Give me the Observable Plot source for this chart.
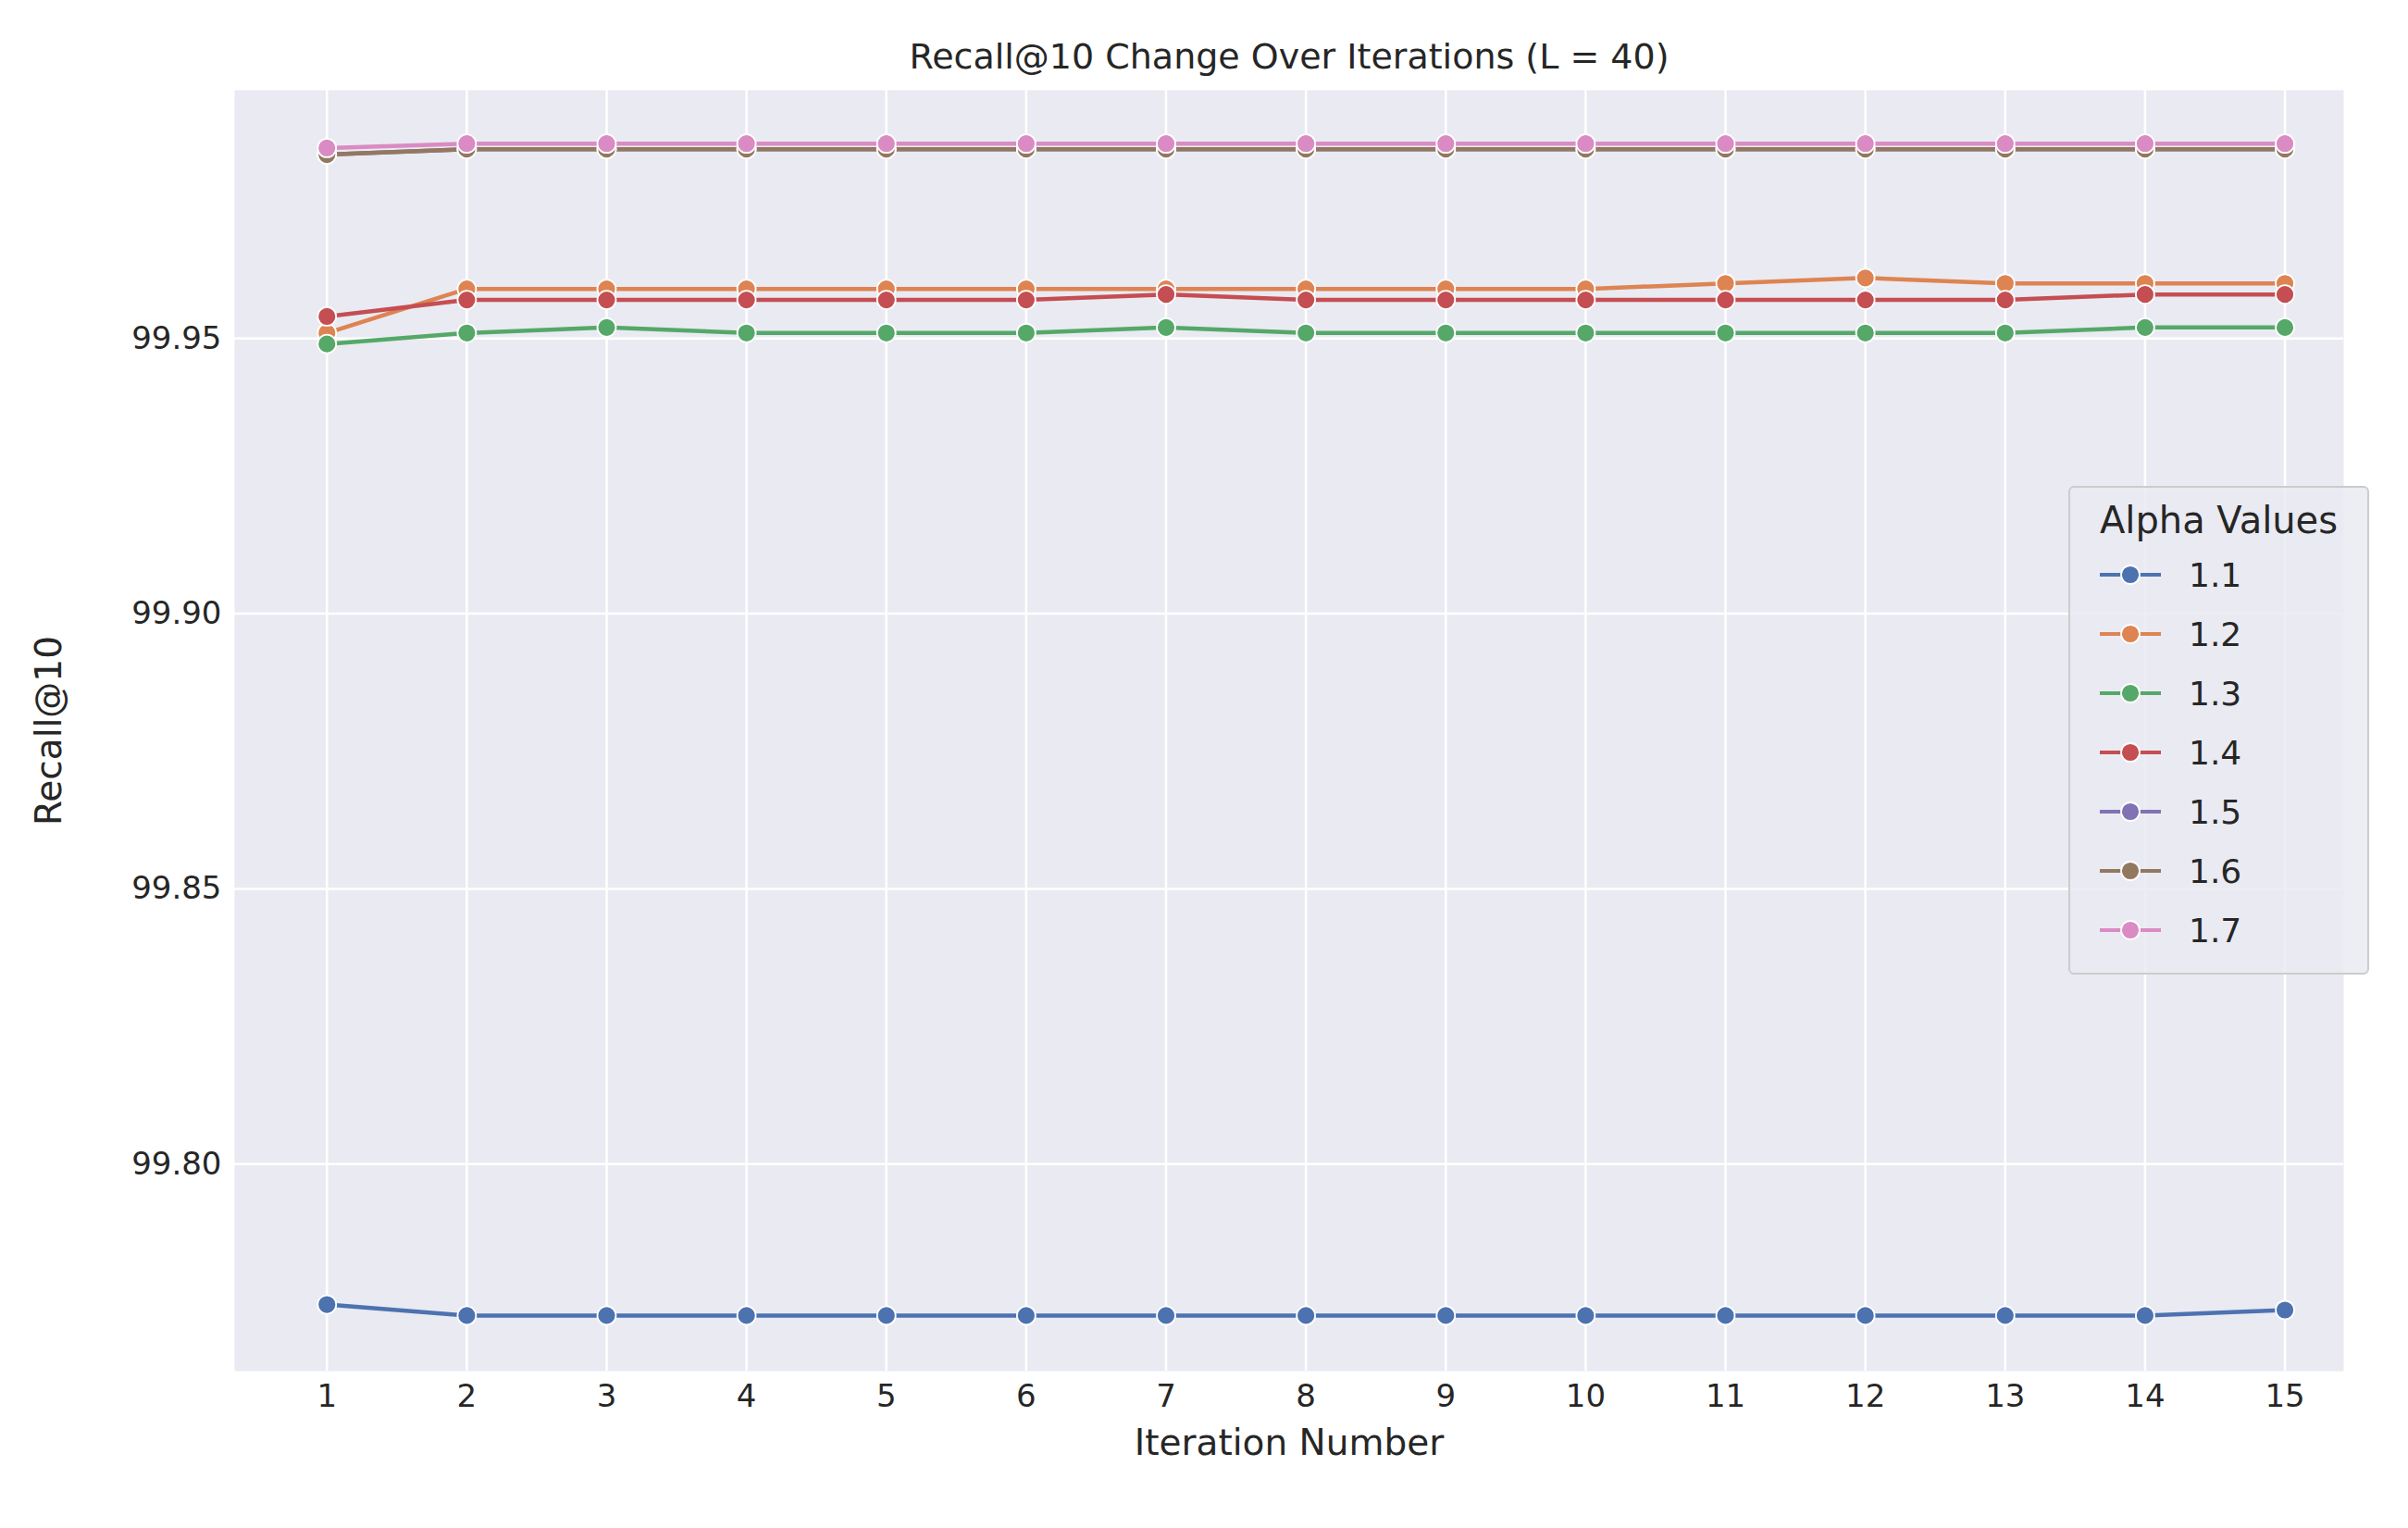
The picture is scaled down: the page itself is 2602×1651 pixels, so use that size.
<!DOCTYPE html>
<html><head><meta charset="utf-8">
<script src="https://cdn.jsdelivr.net/npm/d3@7"></script>
<script src="https://cdn.jsdelivr.net/npm/@observablehq/plot@0.6"></script>
<style>
body{margin:0;background:#fff;font-family:"DejaVu Sans",sans-serif}
#wrap{position:relative;width:2602px;height:1651px}
#legend{position:absolute;left:2235px;top:525px;width:325px;height:528px;box-sizing:border-box;border:2px solid #ccc;border-radius:6px;background:rgba(234,234,242,0.85);font-size:36px;color:#262626}
#legend .t{text-align:center;font-size:40px;margin-top:12px;margin-bottom:4px}
#legend .r{display:flex;align-items:center;height:64px;padding-left:30px}
</style></head>
<body><div id="wrap"><div id="chart"></div><div id="legend"><div class="t">Alpha Values</div></div></div>
<script>
const iterations = d3.range(1, 16)
const alphas = ["1.1","1.2","1.3","1.4","1.5","1.6","1.7"]
const colors = ["#4c72b0","#dd8452","#55a868","#c44e52","#8172b3","#937860","#da8bc3"]
const r11 = [99.7745,99.7725,99.7725,99.7725,99.7725,99.7725,99.7725,99.7725,99.7725,99.7725,99.7725,99.7725,99.7725,99.7725,99.7735]
const r12 = [99.951,99.959,99.959,99.959,99.959,99.959,99.959,99.959,99.959,99.959,99.960,99.961,99.960,99.960,99.960]
const r13 = [99.949,99.951,99.952,99.951,99.951,99.951,99.952,99.951,99.951,99.951,99.951,99.951,99.951,99.952,99.952]
const r14 = [99.954,99.957,99.957,99.957,99.957,99.957,99.958,99.957,99.957,99.957,99.957,99.957,99.957,99.958,99.958]
const r15 = [99.9834,99.9844,99.9844,99.9844,99.9844,99.9844,99.9844,99.9844,99.9844,99.9844,99.9844,99.9844,99.9844,99.9844,99.9844]
const r16 = [99.9834,99.9844,99.9844,99.9844,99.9844,99.9844,99.9844,99.9844,99.9844,99.9844,99.9844,99.9844,99.9844,99.9844,99.9844]
const r17 = [99.9846,99.9854,99.9854,99.9854,99.9854,99.9854,99.9854,99.9854,99.9854,99.9854,99.9854,99.9854,99.9854,99.9854,99.9854]
const series = [r11,r12,r13,r14,r15,r16,r17]
const data = series.flatMap((s, k) => s.map((v, i) => ({iter: iterations[i], value: v, alpha: alphas[k]})))

const chart = Plot.plot({
  width: 2602, height: 1651,
  marginLeft: 253, marginRight: 70, marginTop: 97, marginBottom: 170,
  style: {fontSize: "34px", fontFamily: "DejaVu Sans, sans-serif", color: "#262626", background: "#fff"},
  x: {domain: [0.34, 15.42], ticks: iterations, tickFormat: d => d, tickSize: 0, tickPadding: 14, label: "Iteration Number", labelAnchor: "center", labelOffset: 90, labelArrow: "none"},
  y: {domain: [99.7624, 99.9951], ticks: [99.80,99.85,99.90,99.95], tickFormat: d3.format(".2f"), tickSize: 0, tickPadding: 14, label: "Recall@10", labelAnchor: "center", labelOffset: 215, labelArrow: "none"},
  color: {domain: alphas, range: colors},
  marks: [
    Plot.frame({fill: "#eaeaf2", stroke: null}),
    Plot.gridX(iterations, {stroke: "#fff", strokeOpacity: 1, strokeWidth: 2.5}),
    Plot.gridY([99.80,99.85,99.90,99.95], {stroke: "#fff", strokeOpacity: 1, strokeWidth: 2.5}),
    Plot.line(data, {x: "iter", y: "value", stroke: "alpha", z: "alpha", strokeWidth: 4.5}),
    Plot.dot(data, {x: "iter", y: "value", fill: "alpha", stroke: "#fff", strokeWidth: 1.8, r: 10}),
    Plot.text(["Recall@10 Change Over Iterations (L = 40)"], {frameAnchor: "top", dy: -50, fontSize: 38, fill: "#262626"})
  ]
})
d3.select("#chart").append(() => chart)
d3.selectAll("#chart svg [aria-label='x-axis label'] text, #chart svg [aria-label='y-axis label'] text").style("font-size", "39px")

const lg = d3.select("#legend")
alphas.forEach((a, i) => {
  const row = lg.append("div").attr("class", "r")
  const s = row.append("svg").attr("width", 70).attr("height", 30).style("margin-right", 28)
  s.append("line").attr("x1", 2).attr("x2", 68).attr("y1", 15).attr("y2", 15).attr("stroke", colors[i]).attr("stroke-width", 4)
  s.append("circle").attr("cx", 35).attr("cy", 15).attr("r", 10).attr("fill", colors[i]).attr("stroke", "#fff").attr("stroke-width", 1.8)
  row.append("span").text(a)
})
</script></body></html>
